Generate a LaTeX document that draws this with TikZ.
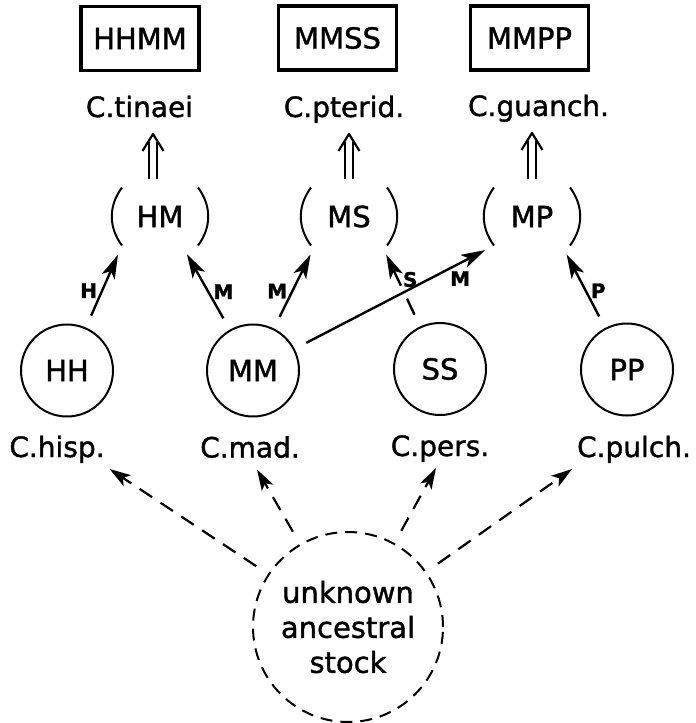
\documentclass[tikz,border=0pt]{standalone}
\usepackage{fontspec}
\setmainfont{DejaVu Sans}[RawFeature={embolden=1.3}]
\usetikzlibrary{arrows.meta,positioning,calc}

\tikzset{
  genome/.style={draw, line width=1.6pt, minimum width=59pt, minimum height=32pt, font=\fontsize{14.5}{17}\selectfont},
  species/.style={anchor=base, inner sep=2pt, text height=10pt, text depth=3.5pt, font=\fontsize{14}{17}\selectfont},
  diploid/.style={circle, draw, minimum size=46pt, inner sep=0pt, font=\fontsize{14.5}{17}\selectfont},
  hybrid/.style={minimum width=37pt, minimum height=28pt, inner sep=0pt, font=\fontsize{14.5}{17}\selectfont,
    append after command={(\tikzlastnode.north west) edge[bend right=37] (\tikzlastnode.south west)
      (\tikzlastnode.north east) edge[bend left=37] (\tikzlastnode.south east)}},
  gene/.style={line width=1.2pt, -{Stealth[length=12pt,width=7pt,inset=3pt]}, shorten <=6.5pt, shorten >=5pt},
  origin/.style={line width=1.1pt, -{Stealth[length=10.5pt,width=6.5pt,inset=2.5pt]}, dash pattern=on 7.5pt off 5pt, shorten <=7pt},
  doubling/.style={line width=1.1pt, double, double distance=2.8pt},
  chevron/.style={line width=1.1pt, line join=round},
  allele/.style={inner sep=2pt, font=\bfseries\fontsize{10}{11}\selectfont},
}

\begin{document}
\begin{tikzpicture}[x=0.5pt, y=-0.5pt, line width=1pt]
    \useasboundingbox (0,0) rectangle (696,723);

    % Tetraploids
    \node[genome] (hhmm) at (140,38.5) {HHMM};
    \node[genome] (mmss) at (337.5,38) {MMSS};
    \node[genome] (mmpp) at (529.5,38) {MMPP};
    \node[species] (tinaei) at (139.5,117) {C.tinaei};
    \node[species] (pterid) at (344,117) {C.pterid.};
    \node[species] (guanch) at (538.5,116) {C.guanch.};

    % Hybrids
    \node[hybrid] (hm) at (160,216.5) {HM\hspace{7pt}};
    \node[hybrid] (ms) at (349,216.5) {MS\hspace{7pt}};
    \node[hybrid] (mp) at (532,216.5) {MP\hspace{7pt}};

    % Doubling
    \foreach \hyb/\sp/\dx in {hm/tinaei/-7, ms/pterid/0, mp/guanch/0} {
        \coordinate (\hyb-tip) at ($(\hyb.north |- \sp.south)+(\dx,5)$);
        \draw[doubling] ($(\hyb.north)+(\dx,-8.5)$) -- ($(\hyb-tip)+(0,8)$);
        \draw[chevron] ($(\hyb-tip)+(-10.5,17)$) -- (\hyb-tip) -- ($(\hyb-tip)+(10.5,17)$);
    }

    % Diploids
    \node[diploid] (hh) at (67,370.5) {HH};
    \node[diploid] (mm) at (253,370.5) {MM};
    \node[diploid] (ss) at (440,369) {SS};
    \node[diploid] (pp) at (627,369.5) {PP};
    \node[species] (hisp) at (57,457) {C.hisp.};
    \node[species] (mad) at (250,457.5) {C.mad.};
    \node[species] (pers) at (440,456) {C.pers.};
    \node[species] (pulch) at (634,457) {C.pulch.};

    % Genomes into hybrids
    \draw[gene] (hh) -- (hm.south west) node[allele, pos=0.45, left] {H};
    \draw[gene] (mm) -- ([xshift=-8pt]hm.south east) node[allele, pos=0.45, right] {M};
    \draw[gene] (mm) -- ([xshift=2pt]ms.south west) node[allele, pos=0.45, left] {M};
    \draw[gene] (ss) -- ([xshift=-2.5pt]ms.south east);
    \draw[gene] (pp) -- ([xshift=-4pt]mp.south east) node[allele, pos=0.45, right] {P};
    \draw[gene, preaction={draw=white, line width=7pt, -, shorten <=40pt, shorten >=30pt}]
        (mm) -- (mp.south west) node[allele, pos=0.83, below=1.5pt] {M};
    \path (ss) -- ([xshift=-2.5pt]ms.south east) node[allele, pos=0.58, right] {S};

    % Common origin
    \node[circle, draw, dash pattern=on 6pt off 4pt, minimum size=95pt, inner sep=0pt, align=center,
        font=\fontsize{14.5}{17.5}\selectfont] (stock) at (348,627) {unknown\\ancestral\\stock};
    \draw[origin] (stock) -- (hisp.south east);
    \draw[origin] (stock) -- ([xshift=3.5pt]mad.south);
    \draw[origin] (stock) -- ([xshift=-2pt]pers.south);
    \draw[origin] (stock) -- (pulch.south west);
\end{tikzpicture}
\end{document}
